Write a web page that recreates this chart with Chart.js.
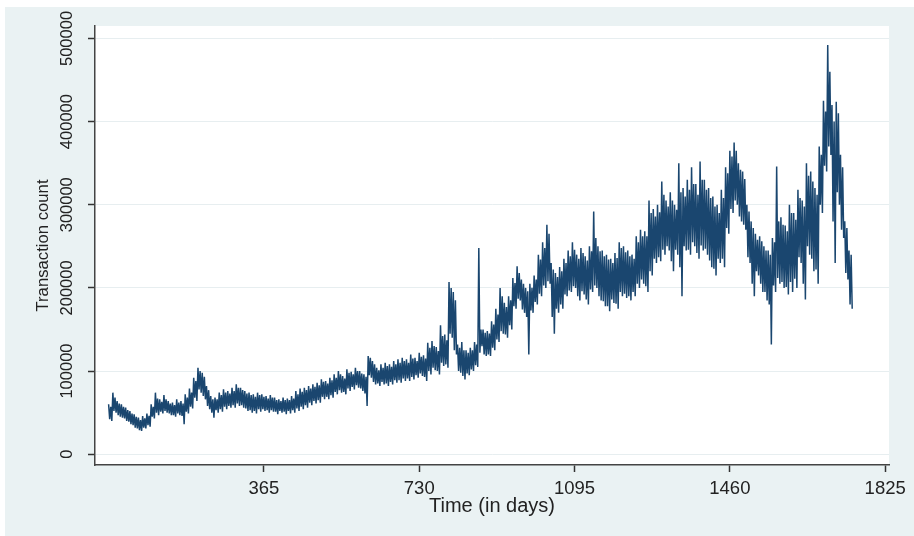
<!DOCTYPE html>
<html><head><meta charset="utf-8">
<script src="https://cdn.jsdelivr.net/npm/chart.js@4.4.1/dist/chart.umd.min.js"></script>
<style>
html,body{margin:0;padding:0;background:#fff;width:914px;height:536px;overflow:hidden}
#wrap{position:absolute;left:5px;top:7px;width:909px;height:529px;background:#eaf2f3}
</style></head><body>
<div id="wrap"><canvas id="c"></canvas></div>
<script>
// Daily transaction counts read per 10-day block (thousands):
// extreme high / low of each block, and the typical (dense band) high / low
const blockDays = 10;
const upperK = [60,74,64,60,56,52,48,44,46,49, 60,74,66,71,64,62,66,64,72,79,
 92,104,98,82,70,68,74,78,76,80, 84,80,76,74,72,74,72,70,71,68,
 66,68,67,70,76,79,80,82,84,86, 90,88,92,96,100,94,102,99,104,100,
 96,118,112,104,108,110,108,112,114,116, 114,120,116,122,119,134,136,129,155,144,
 207,195,132,135,125,128,135,248,150,148, 160,175,200,182,190,212,226,210,200,205,
 215,240,255,276,230,218,225,235,245,255, 240,248,238,250,292,250,245,240,235,242,
 255,250,245,240,262,270,268,305,295,300, 328,305,315,300,350,320,330,345,325,352,
 330,320,310,300,318,345,365,375,350,340, 300,280,265,262,250,245,260,346,285,275,
 300,290,318,305,350,340,320,370,425,492, 420,424,360,280,245];
const lowerK = [40,50,45,43,39,35,31,28,31,33, 43,47,49,50,47,45,47,36,49,55,
 64,74,66,54,44,50,51,54,56,56, 58,56,52,50,49,51,52,50,51,48,
 50,48,49,50,52,54,56,59,61,62, 66,66,68,72,74,72,76,78,80,76,
 58,92,84,82,84,82,84,86,86,88, 88,90,92,94,88,96,101,96,106,104,
 140,120,98,90,95,100,105,130,118,118, 125,135,145,140,150,175,185,170,120,170,
 180,190,200,205,145,170,175,190,195,200, 185,192,180,195,200,185,178,172,182,175,
 190,188,185,190,200,205,195,215,230,232, 240,245,220,240,190,245,240,250,235,245,
 240,225,215,230,225,265,290,300,280,270, 230,190,215,195,185,132,195,205,200,192,
 195,200,230,186,240,220,205,290,340,360, 230,300,260,210,175];
const bandHiK = [57,68,61,57,53,49,45,41,43,46, 57,67,63,66,61,59,62,61,68,74,
 88,100,93,77,66,66,71,74,73,76, 80,77,73,71,69,71,69,67,68,65,
 64,65,65,67,72,75,77,79,81,83, 87,85,89,92,96,91,98,96,100,97,
 93,116,108,101,104,106,105,108,110,112, 110,115,112,117,115,128,130,124,142,137,
 200,185,128,125,122,125,132,150,146,145, 156,168,190,177,185,206,218,205,196,200,
 210,234,248,265,222,213,220,230,238,246, 235,242,233,244,260,244,238,234,230,236,
 248,243,238,235,255,262,262,290,286,291, 312,298,305,294,315,310,318,325,312,330,
 318,308,298,290,308,338,358,365,342,331, 292,272,258,256,245,240,255,280,276,268,
 290,282,308,298,335,328,312,360,412,460, 400,410,345,272,240];
const bandLoK = [42,52,47,44,40,36,32,29,32,35, 45,50,51,52,49,47,49,46,51,57,
 68,78,70,58,50,53,54,57,58,59, 61,59,55,53,52,54,54,53,53,51,
 52,51,52,53,55,57,59,62,64,65, 69,69,71,75,77,75,79,81,83,79,
 73,95,87,85,87,85,87,89,89,91, 91,93,95,97,93,100,104,100,110,108,
 145,125,100,94,97,102,107,122,120,120, 128,138,148,144,155,178,187,174,165,173,
 183,193,203,208,165,175,180,192,197,202, 190,196,186,198,203,190,184,178,186,181,
 195,193,190,195,205,210,202,220,235,237, 246,250,232,246,225,250,246,255,242,251,
 247,233,223,235,235,272,295,305,286,276, 237,205,220,205,195,180,203,212,207,201,
 207,211,237,205,250,235,222,300,347,370, 280,315,270,218,180];
const xTicks = [365, 730, 1095, 1460, 1825];
const yTicks = [0, 100000, 200000, 300000, 400000, 500000];
const xTitle = 'Time (in days)';
const yTitle = 'Transaction count';

// each block: extreme high, typical low, typical high, extreme low
const points = [];
const q = blockDays / 4;
for (let i = 0; i < upperK.length; i++) {
  const d = i * blockDays;
  points.push({x: d, y: upperK[i] * 1000});
  points.push({x: d + q, y: bandLoK[i] * 1000});
  points.push({x: d + 2 * q, y: bandHiK[i] * 1000});
  points.push({x: d + 3 * q, y: lowerK[i] * 1000});
}

const NAVY = '#1a466f';
const FONT = '"Liberation Sans", Arial, sans-serif';
const plotBg = {
  id: 'plotBg',
  beforeDraw(chart) {
    const {ctx, chartArea: a} = chart;
    ctx.save(); ctx.fillStyle = '#ffffff';
    ctx.fillRect(a.left, a.top, a.right - a.left, a.bottom - a.top);
    ctx.restore();
  }
};

new Chart(document.getElementById('c'), {
  type: 'line',
  data: {datasets: [
    {data: points, borderColor: NAVY, borderWidth: 1.5, borderJoinStyle: 'bevel', pointRadius: 0, tension: 0, fill: false}
  ]},
  options: {
    responsive: true, maintainAspectRatio: false, animation: false, devicePixelRatio: 1,
    layout: {padding: {left: 0, top: 19, right: 25, bottom: 0}},
    plugins: {legend: {display: false}, tooltip: {enabled: false}},
    scales: {
      x: {
        type: 'linear', min: -32, max: 1834,
        afterBuildTicks(s) { s.ticks = xTicks.map(v => ({value: v})); },
        afterFit(s) { s.height = 71; },
        grid: {drawOnChartArea: false, drawTicks: true, tickLength: 7, tickColor: '#333', tickWidth: 1.5},
        border: {display: true, color: '#444', width: 1.5},
        ticks: {color: '#222', font: {family: FONT, size: 18.5}, padding: 6, maxRotation: 0, minRotation: 0, autoSkip: false, callback: v => String(v)},
        title: {display: true, text: xTitle, color: '#222', font: {family: FONT, size: 20}, padding: {top: 0, bottom: 18}}
      },
      y: {
        min: -13000, max: 515000,
        afterBuildTicks(s) { s.ticks = yTicks.map(v => ({value: v})); },
        afterFit(s) { s.width = 90; },
        grid: {color: '#e7eef0', lineWidth: 1, drawTicks: true, tickLength: 7, tickColor: '#333', tickWidth: 1.5},
        border: {display: true, color: '#444', width: 1.5},
        ticks: {color: '#222', font: {family: FONT, size: 16.5}, minRotation: 90, maxRotation: 90, crossAlign: 'center', padding: -6.5, autoSkip: false, callback: v => String(v)},
        title: {display: true, text: yTitle, color: '#222', font: {family: FONT, size: 16.7}, padding: {top: 28, bottom: 0}}
      }
    }
  },
  plugins: [plotBg]
});
</script>
</body></html>
